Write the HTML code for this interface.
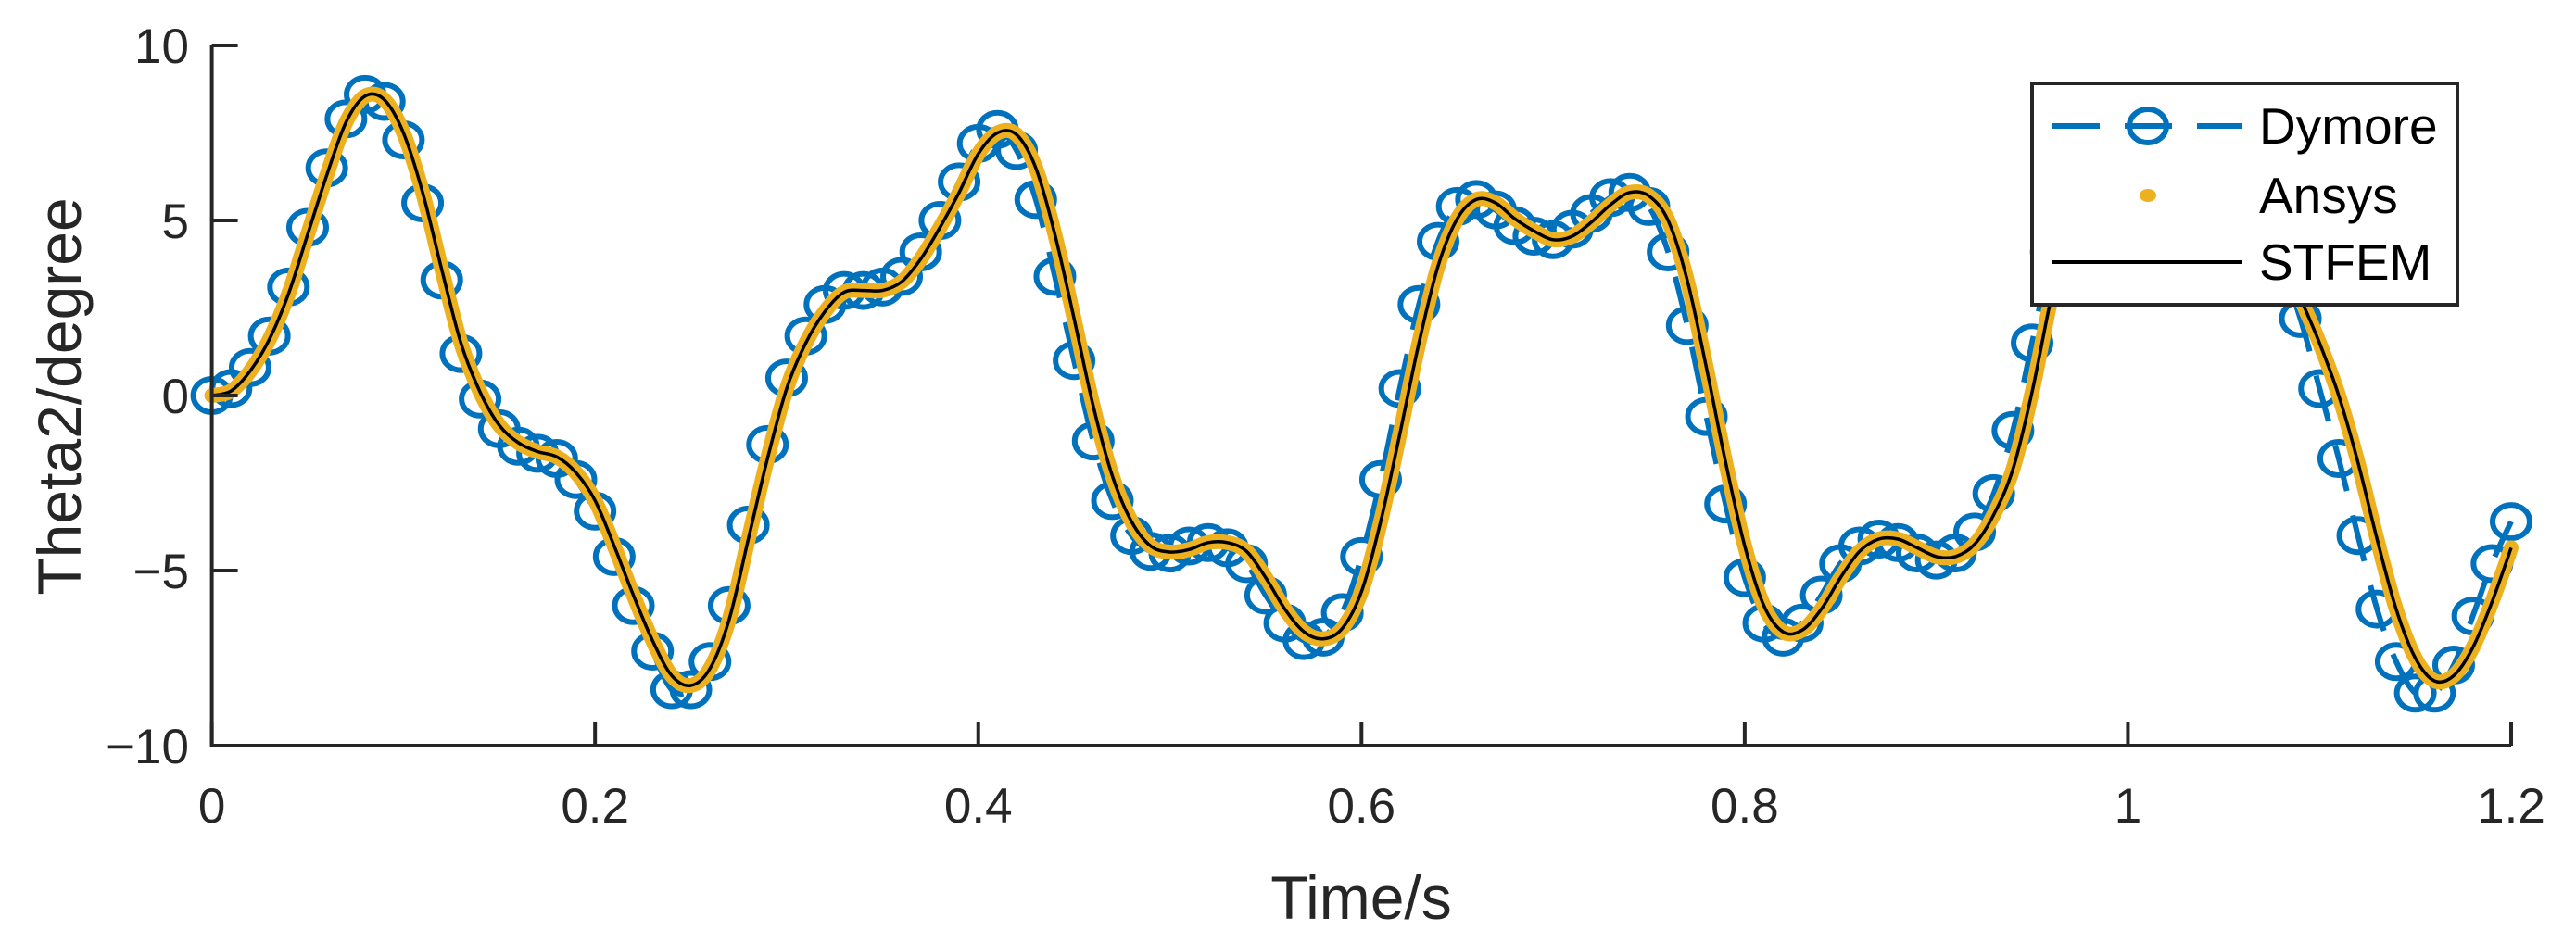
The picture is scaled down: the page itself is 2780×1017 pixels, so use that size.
<!DOCTYPE html>
<html><head><meta charset="utf-8"><style>
html,body{margin:0;padding:0;background:#fff;}
svg{display:block;font-family:"Liberation Sans",Arial,sans-serif;}
</style></head><body>
<svg id="chart" width="2780" height="1017" viewBox="0 0 2780 1017" xmlns="http://www.w3.org/2000/svg">
<rect x="0" y="0" width="2780" height="1017" fill="#fff"/>
<g id="plot"></g>
<g id="axes"></g>
<text x="64" y="428" font-size="66" fill="#262626" text-anchor="middle" dominant-baseline="central" transform="rotate(-90 64 428)">Theta2/degree</text>
<text x="1469" y="992" font-size="66" fill="#262626" text-anchor="middle">Time/s</text>
<g>
<rect x="2193" y="90" width="459" height="239" fill="#fff" stroke="#262626" stroke-width="4"/>
<g>
<line x1="2215" y1="136" x2="2420" y2="136" stroke="#0072BD" stroke-width="6" stroke-dasharray="51 27"/>
<ellipse cx="2318" cy="136" rx="20" ry="18" fill="none" stroke="#0072BD" stroke-width="6"/>
<text x="2438" y="155" font-size="55" fill="#000">Dymore</text>
</g>
<g>
<ellipse cx="2318" cy="211" rx="9" ry="7" fill="#EDB120"/>
<text x="2438" y="230" font-size="55" fill="#000">Ansys</text>
</g>
<g>
<line x1="2215" y1="283" x2="2420" y2="283" stroke="#000" stroke-width="4"/>
<text x="2438" y="302" font-size="55" fill="#000">STFEM</text>
</g>
</g>
</svg>
<script>
const xTicks = [0, 0.2, 0.4, 0.6, 0.8, 1, 1.2];
const xTickLabels = ["0", "0.2", "0.4", "0.6", "0.8", "1", "1.2"];
const yTicks = [-10, -5, 0, 5, 10];
const yTickLabels = ["\u221210", "\u22125", "0", "5", "10"];
const timeStep = 0.01;
const stfemValues = [0,0.13,0.7,1.6,2.9,4.6,6.3,7.8,8.55,8.45,7.5,5.8,3.6,1.5,0.1,-0.85,-1.35,-1.6,-1.75,-2.2,
-3.0,-4.3,-5.7,-7.0,-8.0,-8.28,-7.8,-6.4,-4.1,-1.8,0.2,1.5,2.4,2.95,3.0,3.0,3.25,3.9,4.8,5.8,
6.9,7.5,7.45,6.5,4.6,2.2,-0.3,-2.3,-3.6,-4.3,-4.47,-4.4,-4.2,-4.2,-4.45,-5.2,-6.1,-6.75,-6.95,-6.65,
-5.6,-3.6,-1.1,1.5,3.7,5.05,5.6,5.5,5.05,4.7,4.45,4.55,4.95,5.45,5.8,5.7,5.0,3.3,0.8,-1.9,
-4.3,-6.0,-6.75,-6.7,-6.1,-5.2,-4.45,-4.1,-4.1,-4.35,-4.6,-4.6,-4.25,-3.4,-2.1,0.1,2.8,5.0,6.6,7.4,
7.9,8.1,8.1,7.9,7.5,7.0,6.4,5.5,4.2,2.8,1.5,0.0,-1.9,-4.1,-6.1,-7.5,-8.15,-8.0,-7.2,-5.9,-4.35];
const ansysValues = stfemValues.slice();
const dymoreValues = [0,0.2,0.8,1.7,3.1,4.8,6.5,7.9,8.6,8.4,7.3,5.5,3.3,1.2,-0.1,-0.95,-1.45,-1.65,-1.8,-2.4,
-3.3,-4.6,-6.0,-7.3,-8.4,-8.4,-7.6,-6.0,-3.7,-1.4,0.5,1.7,2.6,3.0,3.0,3.1,3.4,4.1,5.0,6.1,
7.2,7.6,7.0,5.6,3.4,1.0,-1.3,-3.0,-4.0,-4.45,-4.5,-4.3,-4.2,-4.35,-4.8,-5.7,-6.5,-7.0,-6.9,-6.2,
-4.6,-2.4,0.2,2.6,4.4,5.4,5.6,5.3,4.85,4.55,4.45,4.75,5.2,5.65,5.8,5.4,4.1,2.0,-0.6,-3.1,
-5.2,-6.5,-6.9,-6.5,-5.7,-4.8,-4.3,-4.1,-4.2,-4.5,-4.7,-4.5,-3.9,-2.8,-1.0,1.5,4.1,6.0,7.2,7.8,
8.1,8.2,8.1,7.8,7.3,6.7,6.0,5.0,3.7,2.2,0.2,-1.8,-4.0,-6.1,-7.6,-8.5,-8.5,-7.7,-6.3,-4.8,-3.6];

const X0 = 228.6, X1 = 2710, Y0 = 805, Y1 = 49;
const xMin = 0, xMax = 1.2, yMin = -10, yMax = 10;
function xs(t){ return X0 + (t - xMin) / (xMax - xMin) * (X1 - X0); }
function ys(v){ return Y0 - (v - yMin) / (yMax - yMin) * (Y0 - Y1); }
const NS = "http://www.w3.org/2000/svg";
function mk(tag, attrs, parent){
  const e = document.createElementNS(NS, tag);
  for (const k in attrs) e.setAttribute(k, attrs[k]);
  parent.appendChild(e);
  return e;
}
function smoothPath(vals){
  const p = vals.map((v,i)=>[xs(i*timeStep), ys(v)]);
  let d = "M" + p[0][0].toFixed(1) + "," + p[0][1].toFixed(1);
  for (let i=0;i<p.length-1;i++){
    const a=p[Math.max(i-1,0)], b=p[i], c=p[i+1], e=p[Math.min(i+2,p.length-1)];
    const c1=[b[0]+(c[0]-a[0])/6, b[1]+(c[1]-a[1])/6];
    const c2=[c[0]-(e[0]-b[0])/6, c[1]-(e[1]-b[1])/6];
    d += "C"+c1[0].toFixed(1)+","+c1[1].toFixed(1)+" "+c2[0].toFixed(1)+","+c2[1].toFixed(1)+" "+c[0].toFixed(1)+","+c[1].toFixed(1);
  }
  return d;
}
const plot = document.getElementById("plot");
const axes = document.getElementById("axes");

const dl = mk("path", {d: smoothPath(dymoreValues), fill:"none", stroke:"#0072BD", "stroke-width":6, "stroke-dasharray":"51 27"}, plot);


dymoreValues.forEach((v,i)=>{
  const m = mk("ellipse", {cx: xs(i*timeStep), cy: ys(v), rx:20, ry:18, fill:"none", stroke:"#0072BD", "stroke-width":6}, plot);
  
  
});
const al = mk("path", {d: smoothPath(ansysValues), fill:"none", stroke:"#EDB120", "stroke-width":16, "stroke-linecap":"round", "stroke-linejoin":"round"}, plot);


const sl = mk("path", {d: smoothPath(stfemValues), fill:"none", stroke:"#000", "stroke-width":3.5}, plot);



const ax = mk("path", {d:"M"+X0+","+Y1+"V"+Y0+"H"+X1, fill:"none", stroke:"#262626", "stroke-width":4}, axes);


xTicks.forEach((t,i)=>{
  const tk = mk("line", {x1:xs(t), x2:xs(t), y1:Y0, y2:Y0-25, stroke:"#262626", "stroke-width":4}, axes);
  
  
  const lb = mk("text", {x:xs(t), y:888, "font-size":53, fill:"#262626", "text-anchor":"middle"}, axes);
  lb.textContent = xTickLabels[i];
  
  
});
yTicks.forEach((v,i)=>{
  const tk = mk("line", {x1:X0, x2:X0+28, y1:ys(v), y2:ys(v), stroke:"#262626", "stroke-width":4}, axes);
  
  
  const lb = mk("text", {x:204, y:ys(v)+19, "font-size":53, fill:"#262626", "text-anchor":"end"}, axes);
  lb.textContent = yTickLabels[i];
  
  
});
</script>
</body></html>
